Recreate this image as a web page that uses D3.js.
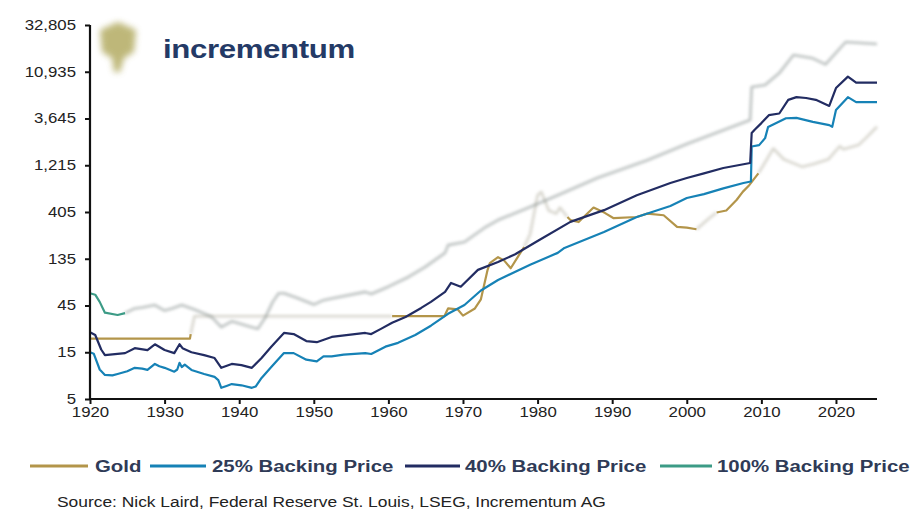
<!DOCTYPE html>
<html>
<head>
<meta charset="utf-8">
<script src="https://cdn.jsdelivr.net/npm/d3@7"></script>
<style>
  body { margin: 0; background: #fff; }
  svg { display: block; font-family: "Liberation Sans", Arial, sans-serif; }
</style>
</head>
<body>
<svg id="chart" width="911" height="512"></svg>
<script>
// Values (year, price).
const gold = [
  [1920, 20.67], [1933.4, 20.67], [1933.5, 23], [1934, 35], [1960.5, 35], [1961, 35],
  [1967.5, 35], [1968, 42], [1969.3, 41], [1970, 35.5], [1971.6, 42], [1972.4, 52],
  [1973.3, 104], [1973.6, 122], [1974.7, 140], [1975.5, 130], [1976.4, 108], [1977.5, 147],
  [1978.2, 178], [1979, 240], [1980, 600], [1980.5, 650], [1981.5, 420], [1982.5, 390],
  [1983, 450], [1984, 360], [1984.4, 335], [1985.5, 320], [1987.5, 450], [1989, 397],
  [1990.2, 350], [1993.3, 360], [1994.7, 390], [1996.9, 375], [1998.7, 285], [2000, 280],
  [2001.3, 270], [2002, 300], [2003, 350], [2004, 400], [2005.3, 420], [2006.7, 540],
  [2007.5, 650], [2008.4, 765], [2009.6, 1005], [2010.5, 1300], [2011.6, 1800], [2013, 1400],
  [2014, 1300], [2015.5, 1170], [2017, 1250], [2019, 1400], [2020.5, 1900], [2021, 1770],
  [2023, 1950], [2024, 2300], [2025.5, 3000]
];

const backing25 = [
  [1920, 15], [1920.5, 14.5], [1921.3, 10], [1922, 8.8], [1923, 8.7], [1923.7, 9.0],
  [1925, 9.6], [1926, 10.4], [1927, 10.2], [1927.7, 9.9], [1928.7, 11.4], [1929.3, 10.8],
  [1930, 10.4], [1931.3, 9.5], [1931.7, 10.0], [1932, 11.7], [1932.3, 10.6], [1932.7, 11.2],
  [1933.6, 9.9], [1935.3, 9.0], [1936.7, 8.4], [1937.2, 7.8], [1937.6, 6.5], [1938.3, 6.8],
  [1939, 7.1], [1940.3, 6.9], [1941.7, 6.5], [1942.2, 6.7], [1943, 8.2], [1944.3, 10.6],
  [1946, 14.7], [1947.3, 14.7], [1949, 12.6], [1950.4, 12.1], [1951.3, 13.6], [1952.4, 13.6],
  [1954, 14.2], [1956.9, 14.7], [1957.7, 14.4], [1959.6, 17.1], [1961.3, 18.7], [1963.6, 22.5],
  [1965.7, 28], [1968, 37], [1970.2, 45.5], [1972.4, 64], [1974.7, 82], [1979, 117],
  [1982.7, 155], [1983.6, 174], [1988.9, 253], [1993.3, 360], [1997.8, 467], [2000, 563],
  [2002.3, 617], [2004.9, 706], [2007.6, 800], [2008.6, 830], [2008.7, 1886], [2009.7, 1950],
  [2010.5, 2300], [2010.9, 2980], [2013.3, 3665], [2014.7, 3700], [2016.9, 3370], [2019.1, 3120],
  [2019.5, 3000], [2020, 4450], [2021.6, 6020], [2022.7, 5350], [2025.5, 5350]
];

const backing40 = [
  [1920, 24], [1920.7, 22.5], [1921.5, 16], [1922, 14], [1924.7, 14.7], [1926, 16.5],
  [1927.7, 15.8], [1928.7, 18.1], [1930, 15.8], [1931.3, 14.7], [1932, 18.1], [1932.4, 16.5],
  [1933.6, 15], [1935.3, 14], [1936.7, 13.1], [1937.6, 10.4], [1939, 11.4], [1940.3, 11.1],
  [1941.7, 10.4], [1943, 13.1], [1944.3, 17.1], [1946, 23.6], [1947.3, 23], [1949, 19.5],
  [1950.4, 19], [1952.4, 21.5], [1956.9, 23.6], [1957.7, 23], [1959, 26], [1960.5, 30],
  [1962.3, 34.4], [1964.4, 42.5], [1965.7, 49], [1967.6, 62], [1968.4, 76.5], [1969.7, 70],
  [1972, 104], [1974.7, 125], [1977, 150], [1980, 205], [1984.4, 321], [1988.9, 423],
  [1993.3, 600], [1997.8, 800], [2000, 900], [2002.3, 1005], [2004.9, 1140], [2008.5, 1280],
  [2008.7, 2590], [2009.1, 2800], [2010, 3270], [2011, 3945], [2012.4, 4100], [2013.6, 5645],
  [2014.7, 6020], [2016, 5900], [2017.3, 5650], [2019.1, 4900], [2020, 7450], [2021.6, 9750],
  [2022.7, 8450], [2025.5, 8450]
];

const backing100 = [
  [1920, 60], [1920.7, 58], [1921.3, 49], [1922, 38], [1923.7, 36], [1924.7, 37.6],
  [1926, 42], [1927, 43], [1928.7, 45.5], [1930, 40], [1931, 42], [1932.3, 45.5],
  [1934, 41], [1936.3, 34.5], [1937.6, 27], [1939, 31], [1941.7, 27], [1942.5, 26],
  [1943.5, 34], [1944.5, 49], [1945.3, 60], [1946, 60], [1947.7, 54], [1950, 46],
  [1951.3, 51], [1952.4, 53], [1956.9, 62], [1957.7, 59], [1960, 70], [1962.7, 88],
  [1964.9, 111], [1967.6, 155], [1968, 186], [1970.2, 200], [1972.9, 280], [1974.7, 335],
  [1979, 456], [1982.7, 600], [1988, 900], [1994.7, 1365], [2000, 2000], [2008.5, 3525],
  [2008.7, 7650], [2010.5, 8000], [2012.4, 10600], [2014.3, 16200], [2016.9, 15000],
  [2018.6, 13000], [2021.3, 22000], [2025.5, 21000]
];

const yTicks = [5, 15, 45, 135, 405, 1215, 3645, 10935, 32805];
const xTicks = [1920, 1930, 1940, 1950, 1960, 1970, 1980, 1990, 2000, 2010, 2020];

// Stretches that look washed out in the reference.
const goldFaded = [[1933.6, 1960.6], [1978.5, 1984.2], [2002, 2005], [2009.8, 2026]];
const backing100Faded = [[1924.8, 2026]];

const series = [
  { name: 'Gold', data: gold, color: '#b3954a', faded: goldFaded, fadeColor: '#a19d8a', fadeOpacity: 0.42 },
  { name: '25% Backing Price', data: backing25, color: '#1682b6', faded: [] },
  { name: '40% Backing Price', data: backing40, color: '#222c62', faded: [] },
  { name: '100% Backing Price', data: backing100, color: '#3c9b86', faded: backing100Faded, fadeColor: '#7b8684', fadeOpacity: 0.5 }
];

const margin = { top: 25, right: 34, bottom: 113, left: 90 },
  width = 911 - margin.left - margin.right,
  height = 512 - margin.top - margin.bottom;

// The reference's lettering is a little wider than Arial.
const stretch = 1.2;

const svg = d3.select('#chart');

const defs = svg.append('defs');
defs.append('filter').attr('id', 'blur')
  .attr('x', '-10%').attr('y', '-50%').attr('width', '120%').attr('height', '200%')
  .append('feGaussianBlur').attr('stdDeviation', 1.6);
defs.append('filter').attr('id', 'blurLogo')
  .attr('x', '-50%').attr('y', '-50%').attr('width', '200%').attr('height', '200%')
  .append('feGaussianBlur').attr('stdDeviation', 3);

// Logo
svg.append('path')
  .attr('d', 'M100,30 L118,22 L136,30 L134,52 L124,58 L120,72 L114,72 L112,58 L102,52 Z')
  .attr('fill', '#a9a04e')
  .attr('opacity', 0.75)
  .attr('filter', 'url(#blurLogo)');
svg.append('text')
  .attr('x', 163)
  .attr('y', 58)
  .attr('font-size', 26)
  .attr('font-weight', 'bold')
  .attr('fill', '#243a66')
  .attr('letter-spacing', -0.3)
  .text('incrementum');

const g = svg.append('g')
  .attr('transform', 'translate(' + margin.left + ',' + margin.top + ')');

const x = d3.scaleLinear().domain([1920, 2025.5]).range([0, width]);
const y = d3.scaleLog().domain([5, 32805]).range([height, 0]);

const line = d3.line()
  .x(d => x(d[0]))
  .y(d => y(d[1]));

// Split a series into solid / faded pieces.
function pieces(data, spans) {
  const out = [];
  let cur = null;
  const isFaded = t => spans.some(s => t >= s[0] && t <= s[1]);
  data.forEach(d => {
    const f = isFaded(d[0]);
    if (!cur || cur.faded !== f) {
      const prev = cur ? cur.pts[cur.pts.length - 1] : null;
      cur = { faded: f, pts: prev ? [prev] : [] };
      out.push(cur);
    }
    cur.pts.push(d);
  });
  return out;
}

const plot = g.append('g');
// faded pieces first, so the solid lines sit on top
[true, false].forEach(pass => {
  series.forEach(s => {
    pieces(s.data, s.faded).filter(p => p.faded === pass).forEach(p => {
      plot.append('path')
        .attr('d', line(p.pts))
        .attr('fill', 'none')
        .attr('stroke', p.faded ? s.fadeColor : s.color)
        .attr('stroke-width', p.faded ? 2.6 : 2.2)
        .attr('stroke-linejoin', 'round')
        .attr('opacity', p.faded ? s.fadeOpacity : 1)
        .attr('filter', p.faded ? 'url(#blur)' : null);
    });
  });
});

// Axes
const yAxis = g.append('g')
  .call(d3.axisLeft(y).tickValues(yTicks).tickSize(5).tickPadding(9)
    .tickFormat(d3.format(',')));
const xAxis = g.append('g')
  .attr('transform', 'translate(0,' + height + ')')
  .call(d3.axisBottom(x).tickValues(xTicks).tickSize(5).tickPadding(3)
    .tickFormat(d3.format('d')));

[yAxis, xAxis].forEach(a => {
  a.select('.domain').attr('stroke', '#111').attr('stroke-width', 2.2);
  a.selectAll('.tick line').attr('stroke', '#111').attr('stroke-width', 2);
  a.selectAll('.tick text').attr('font-size', 14).attr('fill', '#222')
    .attr('font-family', '"Liberation Sans", Arial, sans-serif');
});
yAxis.select('.domain').attr('d', 'M0,' + height + 'V0');
xAxis.select('.domain').attr('d', 'M0,0H' + width);

// Legend
const legendPos = [
  { x1: 30, x2: 88, tx: 95 },
  { x1: 150, x2: 206, tx: 212 },
  { x1: 405, x2: 460, tx: 465 },
  { x1: 660, x2: 712, tx: 717 }
];
const legend = svg.append('g');
series.forEach((s, i) => {
  const p = legendPos[i];
  legend.append('line')
    .attr('x1', p.x1).attr('x2', p.x2)
    .attr('y1', 466).attr('y2', 466)
    .attr('stroke', s.color).attr('stroke-width', 3);
  legend.append('text')
    .attr('x', p.tx).attr('y', 472)
    .attr('font-size', 17).attr('font-weight', 'bold')
    .attr('fill', '#2f3b57')
    .text(s.name);
});

svg.append('text')
  .attr('x', 57).attr('y', 507)
  .attr('font-size', 14.5)
  .attr('fill', '#222')
  .text('Source: Nick Laird, Federal Reserve St. Louis, LSEG, Incrementum AG');

// Widen every label around its own anchor point.
svg.selectAll('text').each(function() {
  const t = d3.select(this);
  const ax = +t.attr('x') || 0;
  t.attr('transform', 'translate(' + ax + ',0) scale(' + stretch + ',1) translate(' + -ax + ',0)');
});
</script>
</body>
</html>
